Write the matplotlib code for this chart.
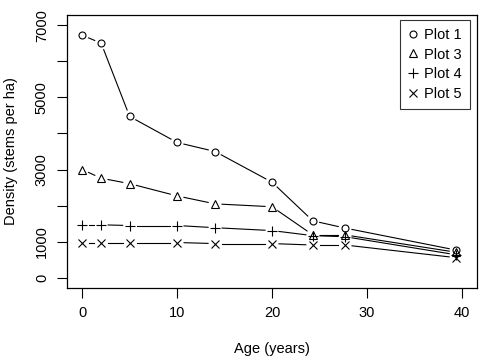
import numpy as np
import matplotlib
matplotlib.use("Agg")
import matplotlib.pyplot as plt

plt.rcParams['font.family'] = ['Liberation Sans', 'DejaVu Sans']

# stand ages (years) and densities (stems per ha)
age = [0, 2, 5, 10, 14, 20, 24.3, 27.7, 39.4]
plot1 = [6720, 6500, 4470, 3750, 3500, 2650, 1580, 1380, 770]
plot3 = [3000, 2760, 2610, 2270, 2050, 1970, 1190, 1190, 710]
plot4 = [1470, 1470, 1450, 1450, 1390, 1310, 1170, 1140, 640]
plot5 = [980, 980, 980, 980, 950, 950, 910, 910, 560]

series = [("Plot 1", plot1, "o"), ("Plot 3", plot3, "^"),
          ("Plot 4", plot4, "+"), ("Plot 5", plot5, "x")]
msize = {"o": 5.0, "^": 5.5, "+": 7.0, "x": 5.5}
fs = 10.5

fig = plt.figure(figsize=(4.82, 3.58), dpi=100)
ax = fig.add_axes([67/482, 1 - 288/358, (477-67)/482, (288-15)/358])
ax.set_xlim(-1.6, 41.6)
ax.set_ylim(-280, 7280)

gap = 7.0  # pixels left open round each point, like R type="b"
handles = []
for name, vals, mk in series:
    pts = ax.transData.transform(np.column_stack([age, vals]))
    for p, q in zip(pts[:-1], pts[1:]):
        d = q - p
        L = np.hypot(*d)
        if L <= 2 * gap:
            continue
        u = d / L
        seg = ax.transData.inverted().transform([p + u * gap, q - u * gap])
        ax.plot(seg[:, 0], seg[:, 1], color="black", lw=0.8)
    h, = ax.plot(age, vals, linestyle="none", marker=mk, ms=msize[mk],
                 mfc="none", mec="black", mew=0.8, label=name)
    handles.append(h)

ax.set_xticks([0, 10, 20, 30, 40])
ax.set_yticks(range(0, 8000, 1000))
ax.set_yticklabels(["0", "1000", "", "3000", "", "5000", "", "7000"],
                   rotation=90, va="center")
ax.tick_params(direction="out", length=7, width=0.8, labelsize=fs,
               colors="black", pad=6)
for s in ax.spines.values():
    s.set_linewidth(0.9)
ax.set_xlabel("Age (years)", fontsize=fs, labelpad=16)
ax.set_ylabel("Density (stems per ha)", fontsize=fs, labelpad=12)

leg = ax.legend(handles=handles, loc="upper right",
                bbox_to_anchor=(1 - 7/410, 1 - 5/273), fontsize=fs,
                frameon=True, fancybox=False, edgecolor="black",
                handlelength=0.7, handletextpad=0.45, labelspacing=0.38,
                borderpad=0.55, borderaxespad=0)
leg.get_frame().set_linewidth(0.8)

fig.savefig("out.png", dpi=100)
